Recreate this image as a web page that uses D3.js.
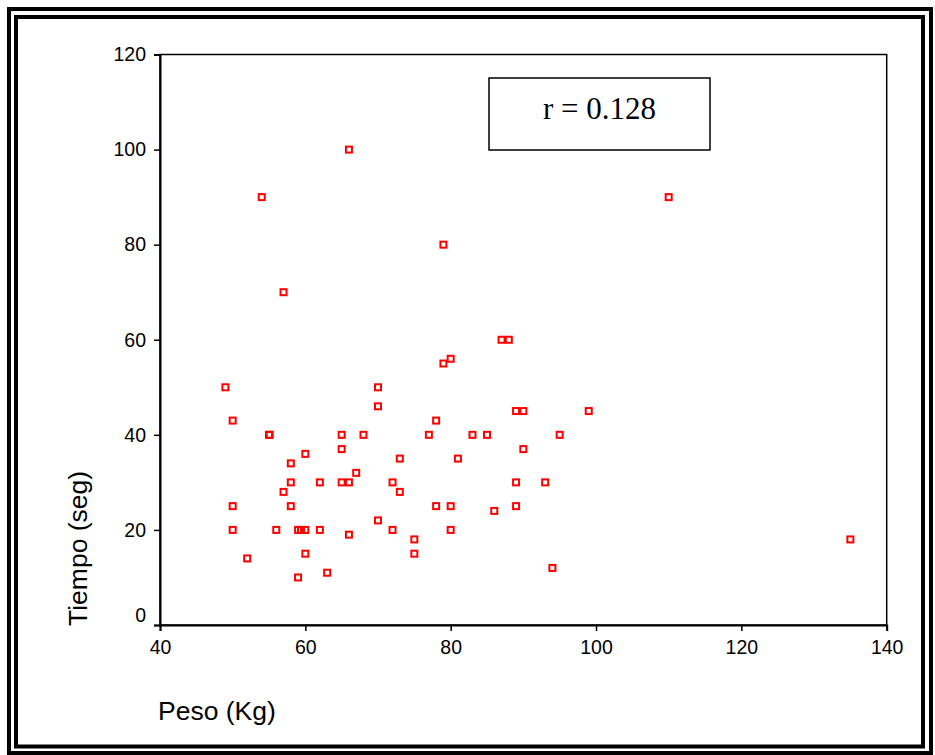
<!DOCTYPE html>
<html>
<head>
<meta charset="utf-8">
<script src="https://cdn.jsdelivr.net/npm/d3@7"></script>
<style>
  body { margin: 0; background: #fff; }
  svg { display: block; }
</style>
</head>
<body>
<svg></svg>
<script>
'use strict'

const WIDTH = 935;
const HEIGHT = 755;

// Peso (Kg) y Tiempo (seg) de cada punto
const peso = [49, 70, 70, 50, 55, 55.1, 65, 68, 65, 60, 58, 67, 58, 62, 65, 66, 72, 57, 73, 73,
  50, 58, 70, 50, 56, 59, 59.4, 60, 62, 72, 66, 60, 52, 63, 59,
  87, 88, 80, 79, 78, 89, 90, 77, 83, 85, 95, 90, 81, 89, 93, 78, 80, 89, 86, 80, 75, 75, 94,
  54, 66, 79, 57, 110, 99, 135];
const tiempo = [50, 50, 46, 43, 40, 40, 40, 40, 37, 36, 34, 32, 30, 30, 30, 30, 30, 28, 28, 35,
  25, 25, 22, 20, 20, 20, 20, 20, 20, 20, 19, 15, 14, 11, 10,
  60, 60, 56, 55, 43, 45, 45, 40, 40, 40, 40, 37, 35, 30, 30, 25, 25, 25, 24, 20, 18, 15, 12,
  90, 100, 80, 70, 90, 45, 18];

const xTicks = [40, 60, 80, 100, 120, 140];
const yTicks = [0, 20, 40, 60, 80, 100, 120];
const xTitle = 'Peso (Kg)';
const yTitle = 'Tiempo (seg)';
const rLabel = 'r = 0.128';

const LEFT = 160, RIGHT = 886.7, TOP = 54.5, BOTTOM = 625;

const svg = d3.select('svg')
  .attr('width', WIDTH)
  .attr('height', HEIGHT);

// double frame
svg.append('rect')
  .attr('x', 9).attr('y', 9)
  .attr('width', 922).attr('height', 744)
  .attr('fill', 'none').attr('stroke', '#000').attr('stroke-width', 4);
svg.append('rect')
  .attr('x', 16).attr('y', 17)
  .attr('width', 907).attr('height', 729.5)
  .attr('fill', 'none').attr('stroke', '#000').attr('stroke-width', 4);

let xScale = d3.scaleLinear().domain([40, 140]).range([LEFT, RIGHT]);
let yScale = d3.scaleLinear().domain([0, 120]).range([BOTTOM, TOP]);

// plot box
svg.append('rect')
  .attr('x', LEFT).attr('y', TOP)
  .attr('width', RIGHT - LEFT).attr('height', BOTTOM - TOP)
  .attr('fill', 'none').attr('stroke', '#000').attr('stroke-width', 1.5);

let leftAxis = d3.axisLeft(yScale).tickValues(yTicks).tickSize(6).tickPadding(8);
let bottomAxis = d3.axisBottom(xScale).tickValues(xTicks).tickSize(6).tickPadding(9);

const gy = svg.append('g')
  .attr('id', 'left-axis')
  .attr('transform', 'translate(' + LEFT + ',0)')
  .call(leftAxis);
const gx = svg.append('g')
  .attr('id', 'bottom-axis')
  .attr('transform', 'translate(0,' + BOTTOM + ')')
  .call(bottomAxis);

[gx, gy].forEach(g => {
  g.select('.domain').attr('stroke-width', 2);
  g.selectAll('.tick line').attr('stroke-width', 1.5);
  g.selectAll('text')
    .attr('font-family', 'Arial, "Liberation Sans", sans-serif')
    .attr('font-size', 19.5)
    .attr('fill', '#000');
});

// the 0 label sits a little above its tick
gy.selectAll('.tick text').filter(d => d === 0).attr('y', -10);

// points
const points = peso.map((p, i) => ({ x: p, y: tiempo[i] }));
svg.append('g')
  .selectAll('rect')
  .data(points)
  .enter().append('rect')
  .attr('x', d => xScale(d.x) - 3)
  .attr('y', d => yScale(d.y) - 3)
  .attr('width', 6)
  .attr('height', 6)
  .attr('fill', 'none')
  .attr('stroke', '#ff0000')
  .attr('stroke-width', 2);

// correlation box
svg.append('rect')
  .attr('x', 489).attr('y', 78)
  .attr('width', 221).attr('height', 72)
  .attr('fill', '#fff').attr('stroke', '#000').attr('stroke-width', 1.5);
svg.append('text')
  .attr('x', 599.5).attr('y', 119)
  .attr('text-anchor', 'middle')
  .attr('font-family', '"Times New Roman", "Liberation Serif", serif')
  .attr('font-size', 31)
  .text(rLabel);

// axis titles
svg.append('text')
  .attr('x', 158).attr('y', 720)
  .attr('font-family', 'Arial, "Liberation Sans", sans-serif')
  .attr('font-size', 26.5)
  .text(xTitle);
svg.append('text')
  .attr('transform', 'translate(87,626) rotate(-90)')
  .attr('font-family', 'Arial, "Liberation Sans", sans-serif')
  .attr('font-size', 26.5)
  .text(yTitle);
</script>
</body>
</html>
